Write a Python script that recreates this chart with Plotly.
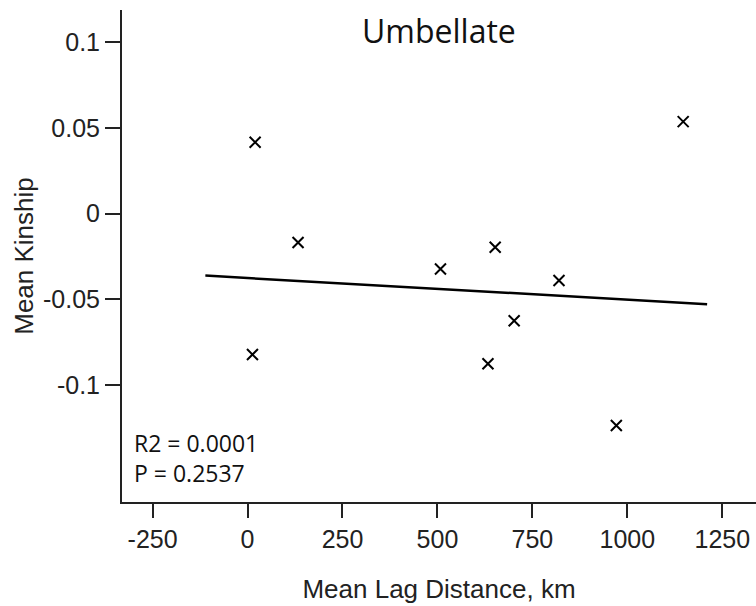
import plotly.graph_objects as go

# Data
lag_km = [20, 133, 13, 1147, 508, 652, 820, 702, 633, 971]
kinship = [0.0417, -0.0169, -0.0823, 0.0537, -0.0323, -0.0196, -0.0391, -0.0626, -0.0877, -0.1237]

fit_x = [-111, 1210]
fit_y = [-0.0362, -0.0529]

x_ticks = [-250, 0, 250, 500, 750, 1000, 1250]
x_ticktext = ["-250", "0", "250", "500", "750", "1000", "1250"]
y_ticks = [-0.1, -0.05, 0, 0.05, 0.1]
y_ticktext = ["-0.1", "-0.05", "0", "0.05", "0.1"]

title_text = "Umbellate"
stats_text = ["R2 = 0.0001", "P = 0.2537"]

fig = go.Figure()
fig.add_trace(go.Scatter(x=fit_x, y=fit_y, mode="lines",
                         line=dict(color="black", width=2.5), showlegend=False))
fig.add_trace(go.Scatter(x=lag_km, y=kinship, mode="markers",
                         marker=dict(symbol="x-thin", size=11,
                                     line=dict(color="black", width=2)),
                         showlegend=False))

tick_font = dict(family="Liberation Sans, Arial, sans-serif", size=25, color="#222")
title_font = dict(family="Liberation Sans, Arial, sans-serif", size=26, color="#222")

fig.update_xaxes(range=[-330.5, 1338.7], tickvals=x_ticks, ticktext=x_ticktext,
                 showline=True, linecolor="#222", linewidth=2, mirror=False,
                 ticks="outside", ticklen=14, tickwidth=2, tickcolor="#222",
                 showgrid=False, zeroline=False, tickfont=tick_font,
                 ticklabelstandoff=0, automargin=False,
                 title=dict(text="Mean Lag Distance, km", font=title_font, standoff=28))
fig.update_yaxes(range=[-0.1684, 0.1189], tickvals=y_ticks, ticktext=y_ticktext,
                 showline=True, linecolor="#222", linewidth=2, mirror=False,
                 ticks="outside", ticklen=15, tickwidth=2, tickcolor="#222",
                 showgrid=False, zeroline=False, tickfont=tick_font, automargin=False,
                 title=dict(text="Mean Kinship", font=title_font, standoff=2))

fig.add_annotation(x=0.5, y=1, xref="x domain", yref="y domain", yshift=-20,
                   text=title_text, showarrow=False, xanchor="center", yanchor="middle",
                   font=dict(family="Open Sans, sans-serif", size=32, color="#111"))
fig.add_annotation(x=0.015, y=0, xref="x domain", yref="y domain", yshift=59,
                   text=stats_text[0], showarrow=False, xanchor="left", yanchor="middle",
                   font=dict(family="Open Sans, sans-serif", size=23, color="#111"))
fig.add_annotation(x=0.015, y=0, xref="x domain", yref="y domain", yshift=29,
                   text=stats_text[1], showarrow=False, xanchor="left", yanchor="middle",
                   font=dict(family="Open Sans, sans-serif", size=23, color="#111"))

fig.update_layout(width=756, height=606, autosize=False,
                  margin=dict(l=122, r=0, t=10, b=104),
                  plot_bgcolor="white", paper_bgcolor="white")

fig.write_html("out.html", config={"displayModeBar": False},
               post_script="document.body.style.margin='0';document.body.style.padding='0';")
